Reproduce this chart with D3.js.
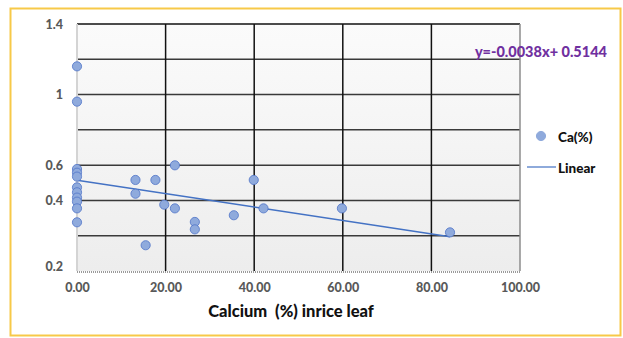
<!DOCTYPE html>
<html>
<head>
<meta charset="utf-8">
<script src="https://cdn.jsdelivr.net/npm/d3@7"></script>
<style>
  body { margin: 0; background: #fff; }
  text { font-family: Lato, "Open Sans", sans-serif; font-weight: 900; white-space: pre; }
</style>
</head>
<body>
<div id="chart"></div>
<script>
// calcium in rice leaf (x) vs Ca(%) (y)
const caX = [0, 0, 0, 0, 0, 0, 0, 0, 0, 0, 0,
             13.2, 13.2, 17.7, 15.5, 19.7, 22.1, 22.1, 26.6, 26.6,
             35.4, 39.9, 42.1, 59.8, 84.2]
const caY = [1.16, 0.96, 0.578, 0.557, 0.535, 0.474, 0.446, 0.416, 0.393, 0.355, 0.276,
             0.516, 0.438, 0.516, 0.146, 0.376, 0.599, 0.355, 0.278, 0.236,
             0.316, 0.516, 0.355, 0.355, 0.219]
const slope = -0.0038
const intercept = 0.5144
const xTicks = [0, 20, 40, 60, 80, 100]
const yGrid = [0, 0.2, 0.4, 0.6, 0.8, 1.0, 1.2, 1.4]
const yTickValues = [1.4, 1.0, 0.6, 0.4, 0.025]
const yTickLabels = ['1.4', '1', '0.6', '0.4', '0.2']
const legendLabels = ['Ca(%)', 'Linear']
const xTitle = 'Calcium  (%) inrice leaf'
const eqText = 'y=-0.0038x+ 0.5144'

const width = 623, height = 338
const margin = {top: 24, left: 77, right: 103, bottom: 67}
const innerW = width - margin.left - margin.right
const innerH = height - margin.top - margin.bottom

const svg = d3.select('#chart').append('svg')
    .attr('width', width)
    .attr('height', height)

// outer frame
svg.append('rect')
    .attr('x', 10.5).attr('y', 8.5)
    .attr('width', 610).attr('height', 327)
    .attr('fill', '#fff')
    .attr('stroke', '#f7c948')
    .attr('stroke-width', 2)

const defs = svg.append('defs')
const grad = defs.append('linearGradient').attr('id', 'bg')
    .attr('x1', 0).attr('y1', 0).attr('x2', 0).attr('y2', 1)
grad.append('stop').attr('offset', '0%').attr('stop-color', '#fbfbfb')
grad.append('stop').attr('offset', '100%').attr('stop-color', '#ededed')

const g = svg.append('g')
    .attr('transform', `translate(${margin.left},${margin.top})`)

const xScale = d3.scaleLinear().domain([0, 100]).range([0, innerW])
const yScale = d3.scaleLinear().domain([0, 1.4]).range([innerH, 0])

g.append('rect')
    .attr('width', innerW).attr('height', innerH)
    .attr('fill', 'url(#bg)')

// grid
g.selectAll('.hgrid').data(yGrid.slice(1)).join('line')
    .attr('class', 'hgrid')
    .attr('x1', 0).attr('x2', innerW)
    .attr('y1', d => yScale(d)).attr('y2', d => yScale(d))
    .attr('stroke', (d, i) => i == yGrid.length - 2 ? '#111' : '#3a3a3a')
    .attr('stroke-width', 1.5)

g.selectAll('.vgrid').data(xTicks.slice(1, -1)).join('line')
    .attr('class', 'vgrid')
    .attr('x1', d => xScale(d)).attr('x2', d => xScale(d))
    .attr('y1', 0).attr('y2', innerH)
    .attr('stroke', '#111')
    .attr('stroke-width', 1.5)

// right edge
g.append('line')
    .attr('x1', innerW).attr('x2', innerW)
    .attr('y1', 0).attr('y2', innerH)
    .attr('stroke', '#8c8c8c').attr('stroke-width', 1.5)

// left axis (light)
g.append('line')
    .attr('x1', 0).attr('x2', 0)
    .attr('y1', 0).attr('y2', innerH)
    .attr('stroke', '#d4d4d4').attr('stroke-width', 2)

// bottom axis (dotted)
g.append('line')
    .attr('x1', 0).attr('x2', innerW)
    .attr('y1', innerH + 1).attr('y2', innerH + 1)
    .attr('stroke', '#9a9a9a').attr('stroke-width', 2)
    .attr('stroke-dasharray', '1,1')

const yAxis = d3.axisLeft(yScale)
    .tickValues(yTickValues)
    .tickSize(0)
    .tickPadding(14)
    .tickFormat((d, i) => yTickLabels[i])
const yAxisG = g.append('g').call(yAxis)
yAxisG.select('.domain').remove()
yAxisG.selectAll('text')
    .attr('fill', '#595959')
    .style('font-size', '12.5px')

const xAxis = d3.axisBottom(xScale)
    .tickValues(xTicks)
    .tickSize(0)
    .tickPadding(12)
    .tickFormat(d3.format('.2f'))
const xAxisG = g.append('g').call(xAxis)
    .attr('transform', `translate(0,${innerH})`)
xAxisG.select('.domain').remove()
xAxisG.selectAll('text')
    .attr('fill', '#595959')
    .style('font-size', '12.5px')

svg.append('text')
    .attr('x', 291).attr('y', 317)
    .attr('text-anchor', 'middle')
    .attr('fill', '#111')
    .style('font-size', '16.5px')
    .text(xTitle)

// trendline
const xMax = d3.max(caX)
const line = d3.line()
    .x(d => xScale(d))
    .y(d => yScale(slope * d + intercept))
g.append('path')
    .attr('d', line([0, xMax]))
    .attr('fill', 'none')
    .attr('stroke', '#4472c4')
    .attr('stroke-width', 1.5)

// points
const pts = caX.map((x, i) => ({x: x, y: caY[i]}))
g.selectAll('circle').data(pts).join('circle')
    .attr('cx', d => xScale(d.x))
    .attr('cy', d => yScale(d.y))
    .attr('r', 4.6)
    .attr('fill', '#8faadc')
    .attr('stroke', '#4f74c8')
    .attr('stroke-width', 0.8)

// equation
svg.append('text')
    .attr('x', 607).attr('y', 57)
    .attr('text-anchor', 'end')
    .attr('fill', '#7030a0')
    .style('font-size', '14.5px')
    .text(eqText)

// legend
const legend = svg.append('g').attr('class', 'legend')
legend.append('circle')
    .attr('cx', 541).attr('cy', 136).attr('r', 4.6)
    .attr('fill', '#8faadc').attr('stroke', '#8faadc')
legend.append('line')
    .attr('x1', 527).attr('x2', 556)
    .attr('y1', 167).attr('y2', 167)
    .attr('stroke', '#4472c4').attr('stroke-width', 1.2)
legend.selectAll('text').data(legendLabels).join('text')
    .attr('x', 558)
    .attr('y', (d, i) => 137 + 31 * i)
    .attr('dy', '0.35em')
    .attr('fill', '#111')
    .style('font-size', '13.5px')
    .text(d => d)
</script>
</body>
</html>
